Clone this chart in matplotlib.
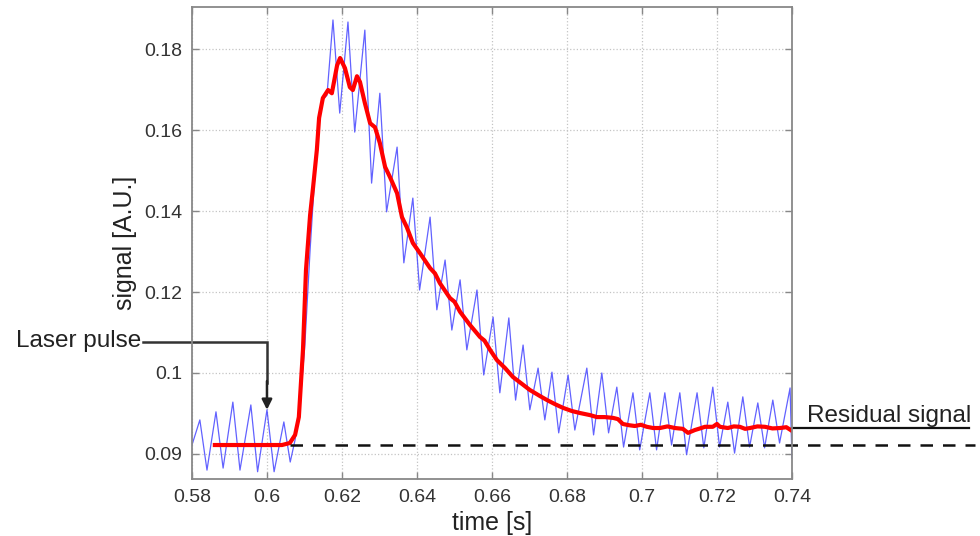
import matplotlib.pyplot as plt

plt.rcParams['font.family'] = ['Liberation Sans', 'DejaVu Sans']

# raw detector signal, turning points of the trace
raw_t = [0.5800, 0.5821, 0.5840, 0.5864, 0.5883, 0.5909, 0.5928, 0.5957, 0.5975, 0.6000,
         0.6019, 0.6045, 0.6062, 0.6075, 0.6088, 0.6101, 0.6115, 0.6125, 0.6136, 0.6147,
         0.6160, 0.6176, 0.6194, 0.6216, 0.6234, 0.6261, 0.6279, 0.6301, 0.6319, 0.6347,
         0.6365, 0.6389, 0.6407, 0.6435, 0.6453, 0.6475, 0.6493, 0.6515, 0.6533, 0.6560,
         0.6578, 0.6603, 0.6621, 0.6645, 0.6663, 0.6683, 0.6701, 0.6723, 0.6741, 0.6760,
         0.6778, 0.6803, 0.6821, 0.6853, 0.6871, 0.6893, 0.6911, 0.6933, 0.6951, 0.6976,
         0.6994, 0.7021, 0.7039, 0.7061, 0.7079, 0.7101, 0.7119, 0.7147, 0.7165, 0.7189,
         0.7207, 0.7229, 0.7247, 0.7269, 0.7287, 0.7309, 0.7327, 0.7349, 0.7367, 0.7395,
         0.7400]
raw_v = [0.0822, 0.0884, 0.0760, 0.0904, 0.0765, 0.0928, 0.0760, 0.0921, 0.0756, 0.0909,
         0.0756, 0.0879, 0.0780, 0.0835, 0.0921, 0.1069, 0.1304, 0.1452, 0.1600, 0.1674,
         0.1686, 0.1872, 0.1642, 0.1867, 0.1595, 0.1847, 0.1469, 0.1691, 0.1398, 0.1558,
         0.1272, 0.1432, 0.1205, 0.1385, 0.1156, 0.1279, 0.1106, 0.1230, 0.1057, 0.1205,
         0.0995, 0.1138, 0.0951, 0.1136, 0.0933, 0.1069, 0.0909, 0.1012, 0.0884, 0.1002,
         0.0852, 0.0995, 0.0859, 0.1012, 0.0847, 0.1000, 0.0852, 0.0965, 0.0817, 0.0951,
         0.0810, 0.0951, 0.0810, 0.0951, 0.0822, 0.0951, 0.0798, 0.0951, 0.0815, 0.0965,
         0.0817, 0.0928, 0.0802, 0.0941, 0.0817, 0.0926, 0.0815, 0.0933, 0.0827, 0.0963,
         0.0790]

# filtered signal
filt_t = [0.5861, 0.6040, 0.6061, 0.6075, 0.6085, 0.6096, 0.6104, 0.6115, 0.6123, 0.6133,
          0.6139, 0.6149, 0.6163, 0.6173, 0.6187, 0.6195, 0.6208, 0.6221, 0.6229, 0.6240,
          0.6248, 0.6261, 0.6275, 0.6288, 0.6301, 0.6315, 0.6328, 0.6347, 0.6360, 0.6373,
          0.6389, 0.6408, 0.6435, 0.6448, 0.6461, 0.6488, 0.6500, 0.6515, 0.6541, 0.6568,
          0.6580, 0.6595, 0.6613, 0.6635, 0.6656, 0.6680, 0.6701, 0.6728, 0.6747, 0.6768,
          0.6789, 0.6813, 0.6835, 0.6861, 0.6880, 0.6901, 0.6923, 0.6936, 0.6949, 0.6965,
          0.6981, 0.6997, 0.7013, 0.7030, 0.7048, 0.7068, 0.7088, 0.7109, 0.7123, 0.7141,
          0.7155, 0.7168, 0.7189, 0.7200, 0.7208, 0.7229, 0.7245, 0.7261, 0.7275, 0.7288,
          0.7308, 0.7328, 0.7348, 0.7368, 0.7385, 0.7400]
filt_v = [0.0822, 0.0822, 0.0827, 0.0847, 0.0891, 0.1057, 0.1254, 0.1390, 0.1459, 0.1551,
          0.1630, 0.1679, 0.1699, 0.1691, 0.1760, 0.1778, 0.1753, 0.1706, 0.1699, 0.1733,
          0.1719, 0.1667, 0.1617, 0.1607, 0.1568, 0.1509, 0.1484, 0.1444, 0.1385, 0.1360,
          0.1321, 0.1296, 0.1259, 0.1246, 0.1222, 0.1185, 0.1176, 0.1151, 0.1119, 0.1089,
          0.1080, 0.1057, 0.1032, 0.1012, 0.0990, 0.0973, 0.0958, 0.0943, 0.0933, 0.0923,
          0.0914, 0.0906, 0.0901, 0.0896, 0.0891, 0.0891, 0.0889, 0.0886, 0.0874, 0.0871,
          0.0869, 0.0872, 0.0867, 0.0864, 0.0864, 0.0868, 0.0864, 0.0862, 0.0852, 0.0859,
          0.0863, 0.0867, 0.0867, 0.0874, 0.0867, 0.0864, 0.0868, 0.0867, 0.0862, 0.0864,
          0.0868, 0.0867, 0.0863, 0.0864, 0.0866, 0.0857]

baseline = 0.0822
residual = 0.0864
pulse_t = 0.60

xticks = [0.58, 0.60, 0.62, 0.64, 0.66, 0.68, 0.70, 0.72, 0.74]
xticklabels = ['0.58', '0.6', '0.62', '0.64', '0.66', '0.68', '0.7', '0.72', '0.74']
yticks = [0.08, 0.10, 0.12, 0.14, 0.16, 0.18]
yticklabels = ['0.09', '0.1', '0.12', '0.14', '0.16', '0.18']

fig = plt.figure(figsize=(9.8, 5.36), dpi=100)
ax = fig.add_axes([0.1959, 0.1063, 0.6122, 0.8806])

ax.plot(raw_t, raw_v, color='#4646ff', lw=0.9, alpha=0.85)
ax.plot(filt_t, filt_v, color='#ff0000', lw=3.0, solid_joinstyle='round')

# baseline before the pulse, continued past the axes
ax.plot([0.6061, 0.7888], [baseline, baseline], color='#111111', lw=1.8,
        dashes=(5, 4), clip_on=False)

# laser pulse marker
ax.plot([0.5669, pulse_t, pulse_t], [0.10766, 0.10766, 0.0975], color='#333333',
        lw=1.8, clip_on=False, solid_joinstyle='miter')
ax.annotate('', xy=(pulse_t, 0.0909), xytext=(pulse_t, 0.0980),
            arrowprops=dict(arrowstyle='-|>', color='#222222', lw=1.8,
                            mutation_scale=15, shrinkA=0, shrinkB=0),
            annotation_clip=False)
ax.text(0.5666, 0.1079, 'Laser pulse', ha='right', va='center', fontsize=17.5,
        color='#222222', clip_on=False)

# residual signal marker
ax.plot([0.7400, 0.7873], [residual, residual], color='#111111', lw=1.6, clip_on=False)
ax.text(0.7440, 0.0880, 'Residual signal', ha='left', va='baseline', fontsize=17.5,
        color='#222222', clip_on=False)

ax.set_xlim(0.58, 0.74)
ax.set_ylim(0.0738, 0.1904)
ax.set_xticks(xticks)
ax.set_xticklabels(xticklabels)
ax.set_yticks(yticks)
ax.set_yticklabels(yticklabels)
ax.tick_params(direction='in', length=5, width=1, top=True, right=True,
               labelsize=14, colors='#888888', labelcolor='#333333', pad=7)
for s in ax.spines.values():
    s.set_color('#888888')
    s.set_linewidth(1.3)
ax.grid(True, linestyle=':', color='#c4c4c4', lw=0.9)

ax.set_xlabel('time [s]', fontsize=18, color='#222222', labelpad=4)
ax.set_ylabel('signal [A.U.]', fontsize=18, color='#222222', labelpad=5)

plt.savefig('out.png', dpi=100)
